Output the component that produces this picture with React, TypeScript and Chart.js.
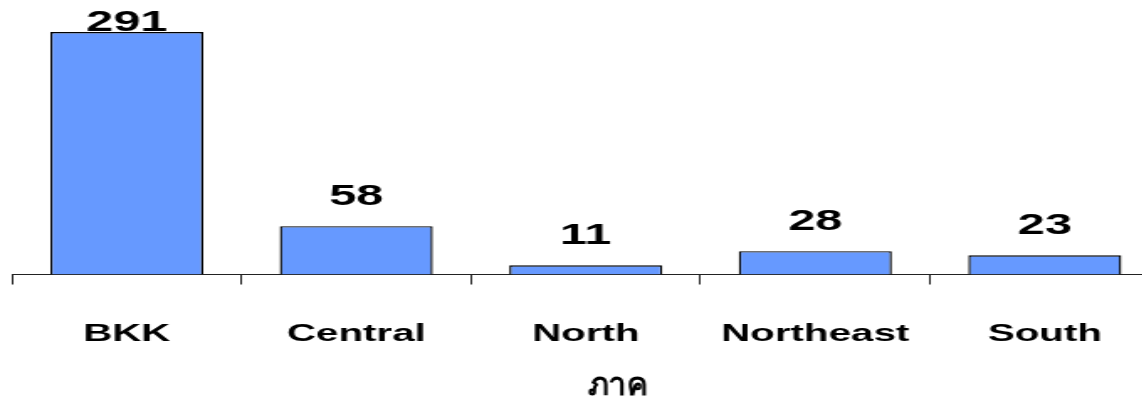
import React, { useEffect, useRef } from "react";
import { Chart, registerables } from "chart.js";

Chart.register(...registerables);

const categories = ["BKK", "Central", "North", "Northeast", "South"];
const counts = [291, 58, 11, 28, 23];
const axisTitle = "ภาค";
const yMax = 300;

const STRETCH = 1.68;
const NATIVE_W = 700;
const H = 401;

const valueLabels = {
  id: "valueLabels",
  afterDatasetsDraw(chart: any) {
    const ctx = chart.ctx;
    const meta = chart.getDatasetMeta(0);
    const data = chart.data.datasets[0].data as number[];
    ctx.save();
    ctx.font = "bold 29px 'Liberation Sans', Arial, sans-serif";
    ctx.fillStyle = "#000";
    ctx.textAlign = "center";
    ctx.textBaseline = "alphabetic";
    meta.data.forEach((bar: any, i: number) => {
      const y = Math.max(bar.y - 21, chart.chartArea.top + 6.5);
      ctx.fillText(String(data[i]), bar.x, y);
    });
    ctx.restore();
  },
};

const axisTitlePlugin = {
  id: "axisTitlePlugin",
  afterDraw(chart: any) {
    const ctx = chart.ctx;
    const area = chart.chartArea;
    const cx = (area.left + area.right) / 2 + 19;
    ctx.save();
    ctx.translate(cx, 386);
    ctx.scale(1 / STRETCH, 1);
    ctx.font = "bold 32px 'Noto Sans', 'DejaVu Sans', sans-serif";
    ctx.fillStyle = "#000";
    ctx.textAlign = "center";
    ctx.textBaseline = "middle";
    ctx.fillText(axisTitle, 0, 0);
    ctx.restore();
  },
};

export default function App() {
  const ref = useRef<HTMLCanvasElement | null>(null);
  useEffect(() => {
    if (!ref.current) return;
    const chart = new Chart(ref.current, {
      type: "bar",
      data: {
        labels: categories,
        datasets: [
          {
            data: counts,
            backgroundColor: "#6699FF",
            borderColor: "#000000",
            borderWidth: 1.4,
            barPercentage: 0.667,
            categoryPercentage: 1,
          },
        ],
      },
      options: {
        animation: false,
        responsive: false,
        devicePixelRatio: 1,
        layout: { padding: { top: 24.5, left: 7.14, right: 9.8, bottom: 0 } },
        plugins: { legend: { display: false }, tooltip: { enabled: false } },
        scales: {
          y: { display: false, min: 0, max: yMax },
          x: {
            offset: true,
            afterFit: (scale: any) => {
              scale.height = 126.5;
            },
            border: { display: true, color: "#222", width: 1 },
            grid: {
              display: true,
              drawOnChartArea: false,
              drawTicks: true,
              tickLength: 10,
              color: "#222",
              lineWidth: 1,
              offset: true,
            },
            ticks: {
              padding: 35,
              color: "#000",
              font: { family: "'Liberation Sans', Arial, sans-serif", size: 24, weight: "bold" },
            },
            title: { display: false, text: axisTitle },
          },
        },
      },
      plugins: [valueLabels, axisTitlePlugin],
    });
    return () => chart.destroy();
  }, []);
  return (
    <div
      style={{
        position: "absolute",
        left: 0,
        top: 0,
        width: 1142,
        height: H,
        overflow: "hidden",
        background: "#fff",
      }}
    >
      <div
        style={{
          width: NATIVE_W,
          height: H,
          transform: `scaleX(${STRETCH})`,
          transformOrigin: "0 0",
        }}
      >
        <canvas ref={ref} width={NATIVE_W} height={H} />
      </div>
    </div>
  );
}
